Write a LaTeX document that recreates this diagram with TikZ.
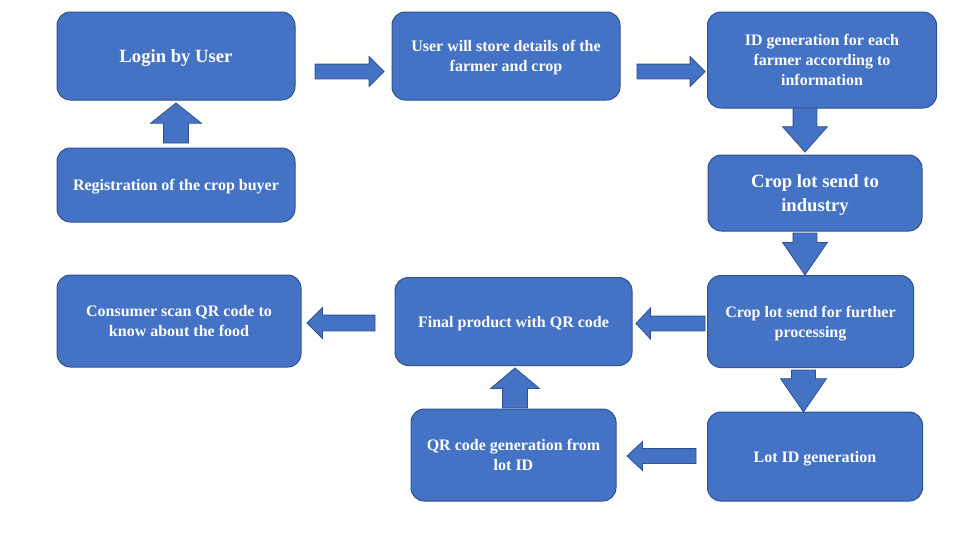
\documentclass[tikz,border=0pt]{standalone}
\usepackage{fontspec}
\setmainfont{Liberation Serif}
\usepackage{xcolor}
\usepackage{tikz}
\usetikzlibrary{shapes,arrows.meta}
\definecolor{boxBlue}{HTML}{4472C4}
\definecolor{edgeBlue}{HTML}{2F528F}
\newcommand{\px}{0.75pt}
\tikzset{
  stepBox/.style={
    rectangle,
    rounded corners=10pt,
    draw=edgeBlue,
    line width=0.75pt,
    fill=boxBlue,
    text=white,
    font=\fontsize{12}{15}\selectfont\bfseries,
    align=center,
    text depth=0pt,
    inner sep=2pt
  },
  bigText/.style={
    font=\fontsize{14}{17.5}\selectfont\bfseries
  },
  blockArrow/.style={
    single arrow,
    draw=edgeBlue,
    line width=0.6pt,
    fill=boxBlue,
    inner xsep=0pt,
    outer sep=0pt,
    minimum width=0pt,
    anchor=tail
  }
}

\begin{document}
\begin{tikzpicture}[x=0.75pt,y=-0.75pt]
        \useasboundingbox (0,0) rectangle (960,540);

        % boxes
        \node[stepBox, bigText, minimum width=238*\px, minimum height=88*\px] (login) at (176,56) {Login by User};
        \node[stepBox, minimum width=228*\px, minimum height=88*\px] (store) at (506,56) {User will store details of the\\farmer and crop};
        \node[stepBox, minimum width=229*\px, minimum height=96*\px] (farmerid) at (822,60) {ID generation for each\\farmer according to\\information};
        \node[stepBox, minimum width=238*\px, minimum height=74*\px] (register) at (176,185) {Registration of the crop buyer};
        \node[stepBox, bigText, minimum width=214*\px, minimum height=76*\px] (industry) at (815,193) {Crop lot send to\\industry};
        \node[stepBox, minimum width=206*\px, minimum height=92*\px] (process) at (810.5,321.5) {Crop lot send for further\\processing};
        \node[stepBox, minimum width=237*\px, minimum height=88*\px] (final) at (513.5,321.5) {Final product with QR code};
        \node[stepBox, minimum width=244*\px, minimum height=92*\px] (consumer) at (179,321) {Consumer scan QR code to\\know about the food};
        \node[stepBox, minimum width=215*\px, minimum height=89*\px] (lotid) at (815,456.5) {Lot ID generation};
        \node[stepBox, minimum width=205*\px, minimum height=92*\px] (qrgen) at (513.5,455) {QR code generation from\\lot ID};

        % block arrows
        \node[blockArrow, minimum height=69*\px, inner ysep=7*\px, single arrow head extend=7.5*\px, single arrow tip angle=90] (a1) at (315,71.5) {};
        \node[blockArrow, minimum height=68*\px, inner ysep=7*\px, single arrow head extend=7.5*\px, single arrow tip angle=90] (a2) at (637,71.5) {};
        \node[blockArrow, rotate=-90, minimum height=44*\px, inner ysep=11.5*\px, single arrow head extend=10.5*\px, single arrow tip angle=83] (a3) at (805,108) {};
        \node[blockArrow, rotate=-90, minimum height=42*\px, inner ysep=11.5*\px, single arrow head extend=10.5*\px, single arrow tip angle=69] (a4) at (805,233) {};
        \node[blockArrow, rotate=-90, minimum height=42*\px, inner ysep=11.5*\px, single arrow head extend=11*\px, single arrow tip angle=69] (a5) at (803.5,370) {};
        \node[blockArrow, rotate=180, minimum height=69*\px, inner ysep=7*\px, single arrow head extend=8*\px, single arrow tip angle=94] (a6) at (705,323.5) {};
        \node[blockArrow, rotate=180, minimum height=68*\px, inner ysep=7.5*\px, single arrow head extend=7.5*\px, single arrow tip angle=90] (a7) at (375,323) {};
        \node[blockArrow, rotate=180, minimum height=69*\px, inner ysep=7*\px, single arrow head extend=7*\px, single arrow tip angle=86] (a8) at (696,456) {};
        \node[blockArrow, rotate=90, minimum height=40*\px, inner ysep=12*\px, single arrow head extend=13*\px, single arrow tip angle=103] (a9) at (176,143) {};
        \node[blockArrow, rotate=90, minimum height=40*\px, inner ysep=12*\px, single arrow head extend=12*\px, single arrow tip angle=100] (a10) at (515,408) {};
    \end{tikzpicture}
\end{document}
